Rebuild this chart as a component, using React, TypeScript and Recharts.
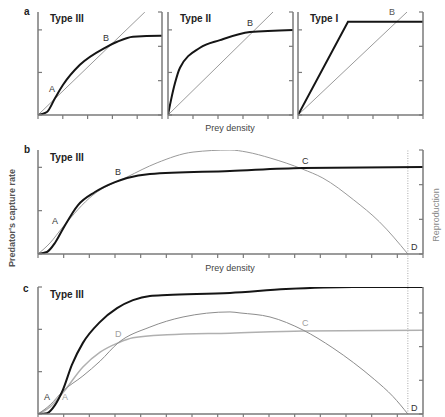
import React from 'react';
import { LineChart, Line, XAxis, YAxis, ReferenceLine } from 'recharts';

const FONT = '"Liberation Sans", Arial, sans-serif';
const AXIS = '#7a7a7a';

// ---------- Panel a ----------
const aXTicks = [0, 1, 2, 3, 4, 5];
const aLeftTicks = [0, 1, 2];
const aRightTicks = [0, 1, 2, 3];
const aTypeIIIx = [0, 0.36, 0.69, 1.01, 1.69, 2.7, 3.19, 3.83, 4.92, 5];
const aTypeIIIy = [0, 0.07, 0.4, 0.71, 1.18, 1.58, 1.72, 1.84, 1.86, 1.86];
const aTypeIIIlinX = [0, 4.31];
const aTypeIIIlinY = [0, 2.42];
const aTypeIIx = [0, 0.12, 0.28, 0.48, 1.28, 2.08, 3.28, 5];
const aTypeIIy = [0, 0.35, 0.75, 1.11, 1.58, 1.76, 1.95, 2.0];
const aTypeIIlinX = [0, 4.2];
const aTypeIIlinY = [0, 2.42];
const aTypeIx = [0, 2, 5];
const aTypeIy = [0, 2.19, 2.19];
const aTypeIlinX = [0, 4.36];
const aTypeIlinY = [0, 2.42];

// ---------- Panel b ----------
const bXTicks = Array.from({ length: 16 }, (_, i) => i);
const bLeftTicks = [0, 5, 10];
const bRightTicks = [0, 1, 2, 3];
const bCaptureX = [0, 0.35, 0.66, 0.97, 1.56, 2.22, 3.0, 3.47, 4.36, 7.48, 10.3, 15];
const bCaptureY = [0, 0.23, 1.27, 2.88, 5.65, 7.15, 8.3, 8.77, 9.23, 9.58, 9.92, 10.04];
const bReproX = [0, 0.47, 0.97, 2.14, 3.47, 4.64, 6.04, 7.48, 8.14, 9.04, 10.3, 11.1, 12.3, 13.3, 14.41];
const bReproY = [0, 0.32, 0.78, 1.7, 2.22, 2.63, 2.94, 3.0, 2.94, 2.77, 2.45, 2.19, 1.56, 0.93, 0];
const dLimit = 14.41;

// ---------- Panel c ----------
const cXTicks = bXTicks;
const cLeftTicks = [0, 1, 2, 3];
const cRightTicks = [0, 1, 2, 3];
const cCaptureX = [0, 0.35, 0.66, 0.97, 1.32, 1.75, 2.41, 3.08, 3.7, 4.36, 5.03, 7.48, 9.66, 12.27, 15];
const cCaptureY = [0, 0.02, 0.21, 0.57, 1.16, 1.68, 2.17, 2.5, 2.69, 2.79, 2.81, 2.86, 2.95, 3.0, 3.0];
const cCapture2X = [0, 0.47, 0.97, 1.75, 2.42, 3.12, 3.7, 5.03, 7.48, 10.33, 15];
const cCapture2Y = [0, 0.17, 0.5, 1.11, 1.46, 1.68, 1.8, 1.87, 1.91, 1.96, 1.98];
const cReproX = [0, 0.47, 0.97, 1.75, 2.42, 3.12, 4.36, 5.65, 7.48, 7.87, 9.04, 10.33, 11.49, 12.3, 13.1, 13.83, 14.41];
const cReproY = [0, 0.27, 0.68, 1.13, 1.57, 2.11, 2.58, 2.88, 3.03, 3.0, 2.88, 2.49, 1.96, 1.52, 1.03, 0.52, 0];

const pts = (xs: number[], ys: number[]) => xs.map((x, i) => ({ x, y: ys[i] }));

const NoLabel = () => <g />;

type PanelProps = {
  left: number; top: number; w: number; h: number;
  mt?: number; mb?: number;
  xMax: number; xTicks: number[];
  lDomain: [number, number]; lTicks: number[];
  rDomain: [number, number]; rTicks: number[];
  children?: React.ReactNode;
};

function Panel(p: PanelProps) {
  const mt = p.mt ?? 8;
  const mb = p.mb ?? 8;
  const m = 8;
  const tickLine = { stroke: AXIS, strokeWidth: 1.2 };
  return (
    <div style={{ position: 'absolute', left: p.left - m, top: p.top - mt }}>
      <LineChart width={p.w + 2 * m} height={p.h + mt + mb + 1} margin={{ top: mt, right: m, bottom: mb, left: m }}>
        <XAxis type="number" dataKey="x" domain={[0, p.xMax]} ticks={p.xTicks} tick={NoLabel} height={1}
          stroke={AXIS} strokeWidth={1.5} tickSize={4} tickLine={tickLine} interval={0} allowDataOverflow />
        <YAxis yAxisId="l" type="number" domain={p.lDomain} ticks={p.lTicks} tick={NoLabel} width={1} mirror
          stroke={AXIS} strokeWidth={1.5} tickSize={4} tickLine={tickLine} interval={0} allowDataOverflow />
        <YAxis yAxisId="r" orientation="right" type="number" domain={p.rDomain} ticks={p.rTicks} tick={NoLabel} width={1} mirror
          stroke={AXIS} strokeWidth={1.5} tickSize={4} tickLine={tickLine} interval={0} allowDataOverflow />
        {p.children}
      </LineChart>
    </div>
  );
}

const blackLine = { stroke: '#151515', strokeWidth: 2, dot: false, isAnimationActive: false } as const;
const grayLine = { stroke: '#9a9a9a', strokeWidth: 1, dot: false, isAnimationActive: false } as const;

export default function App() {
  const txt = { fontFamily: FONT } as const;
  return (
    <div style={{ position: 'absolute', left: 0, top: 0, width: 445, height: 417, background: '#fff', overflow: 'hidden' }}>
      {/* Panel a */}
      <Panel left={38} top={12} w={124} h={103} xMax={5} xTicks={aXTicks}
        lDomain={[0, 2.42]} lTicks={aLeftTicks} rDomain={[0, 3]} rTicks={aRightTicks}>
        <Line yAxisId="l" data={pts(aTypeIIIlinX, aTypeIIIlinY)} dataKey="y" type="linear" {...grayLine} />
        <Line yAxisId="l" data={pts(aTypeIIIx, aTypeIIIy)} dataKey="y" type="monotone" {...blackLine} />
      </Panel>
      <Panel left={168} top={12} w={125} h={103} xMax={5} xTicks={aXTicks}
        lDomain={[0, 2.42]} lTicks={aLeftTicks} rDomain={[0, 3]} rTicks={aRightTicks}>
        <Line yAxisId="l" data={pts(aTypeIIlinX, aTypeIIlinY)} dataKey="y" type="linear" {...grayLine} />
        <Line yAxisId="l" data={pts(aTypeIIx, aTypeIIy)} dataKey="y" type="monotone" {...blackLine} />
      </Panel>
      <Panel left={298} top={12} w={125} h={103} xMax={5} xTicks={aXTicks}
        lDomain={[0, 2.42]} lTicks={aLeftTicks} rDomain={[0, 3]} rTicks={aRightTicks}>
        <Line yAxisId="l" data={pts(aTypeIlinX, aTypeIlinY)} dataKey="y" type="linear" {...grayLine} />
        <Line yAxisId="l" data={pts(aTypeIx, aTypeIy)} dataKey="y" type="linear" {...blackLine} />
      </Panel>

      {/* Panel b */}
      <Panel left={38} top={150} w={385} h={104} xMax={15} xTicks={bXTicks}
        lDomain={[0, 12]} lTicks={bLeftTicks} rDomain={[0, 3]} rTicks={bRightTicks}>
        <ReferenceLine yAxisId="l" x={dLimit} stroke="#a8a8a8" strokeWidth={1} strokeDasharray="1 1.5" />
        <Line yAxisId="r" data={pts(bReproX, bReproY)} dataKey="y" type="monotone" {...grayLine} />
        <Line yAxisId="l" data={pts(bCaptureX, bCaptureY)} dataKey="y" type="monotone" {...blackLine} />
      </Panel>

      {/* Panel c */}
      <Panel left={38} top={287} w={385} h={127} mt={40} mb={6} xMax={15} xTicks={cXTicks}
        lDomain={[0, 3]} lTicks={cLeftTicks} rDomain={[0, 3.77]} rTicks={cRightTicks}>
        <ReferenceLine yAxisId="l" segment={[{ x: dLimit, y: 0 }, { x: dLimit, y: 3.78 }]} ifOverflow="visible"
          stroke="#a8a8a8" strokeWidth={1} strokeDasharray="1 1.5" />
        <Line yAxisId="l" data={pts(cCapture2X, cCapture2Y)} dataKey="y" type="monotone" stroke="#b0b0b0" strokeWidth={1.5} dot={false} isAnimationActive={false} />
        <Line yAxisId="r" data={pts(cReproX, cReproY)} dataKey="y" type="monotone" stroke="#8c8c8c" strokeWidth={1} dot={false} isAnimationActive={false} />
        <Line yAxisId="l" data={pts(cCaptureX, cCaptureY)} dataKey="y" type="monotone" {...blackLine} />
      </Panel>

      {/* Text overlay */}
      <svg width={445} height={417} style={{ position: 'absolute', left: 0, top: 0, pointerEvents: 'none' }}>
        <g style={txt}>
          <text x={24} y={15} fontSize={10} fontWeight="bold" fill="#222">a</text>
          <text x={50} y={22} fontSize={10} fontWeight="bold" fill="#222">Type III</text>
          <text x={180} y={22} fontSize={10} fontWeight="bold" fill="#222">Type II</text>
          <text x={310} y={22} fontSize={10} fontWeight="bold" fill="#222">Type I</text>
          <text x={49} y={92} fontSize={9} fill="#333">A</text>
          <text x={103} y={41} fontSize={9} fill="#333">B</text>
          <text x={247} y={26} fontSize={9} fill="#333">B</text>
          <text x={389} y={15} fontSize={9} fill="#555">B</text>
          <text x={230} y={131} fontSize={9} fill="#444" textAnchor="middle">Prey density</text>

          <text x={24} y={153} fontSize={10} fontWeight="bold" fill="#222">b</text>
          <text x={50} y={161} fontSize={10} fontWeight="bold" fill="#222">Type III</text>
          <text x={52} y={224} fontSize={9} fill="#333">A</text>
          <text x={115} y={175} fontSize={9} fill="#333">B</text>
          <text x={302} y={164} fontSize={9} fill="#333">C</text>
          <text x={411} y={250} fontSize={9} fill="#333">D</text>
          <text x={230} y={271} fontSize={9} fill="#444" textAnchor="middle">Prey density</text>
          <text x={0} y={0} fontSize={9} fontWeight="bold" fill="#555" textAnchor="middle"
            transform="translate(15,218) rotate(-90)">Predator's capture rate</text>
          <text x={0} y={0} fontSize={9} fill="#8a8a8a" textAnchor="middle"
            transform="translate(439,215) rotate(-90)">Reproduction</text>

          <text x={23} y={292} fontSize={10} fontWeight="bold" fill="#222">c</text>
          <text x={50} y={298} fontSize={10} fontWeight="bold" fill="#222">Type III</text>
          <text x={44} y={400} fontSize={9} fill="#333">A</text>
          <text x={62} y={400} fontSize={9} fill="#a0a0a0">A</text>
          <text x={115} y={337} fontSize={9} fill="#a0a0a0">D</text>
          <text x={302} y={326} fontSize={9} fill="#a0a0a0">C</text>
          <text x={411} y={411} fontSize={9} fill="#333">D</text>
        </g>
      </svg>
    </div>
  );
}
